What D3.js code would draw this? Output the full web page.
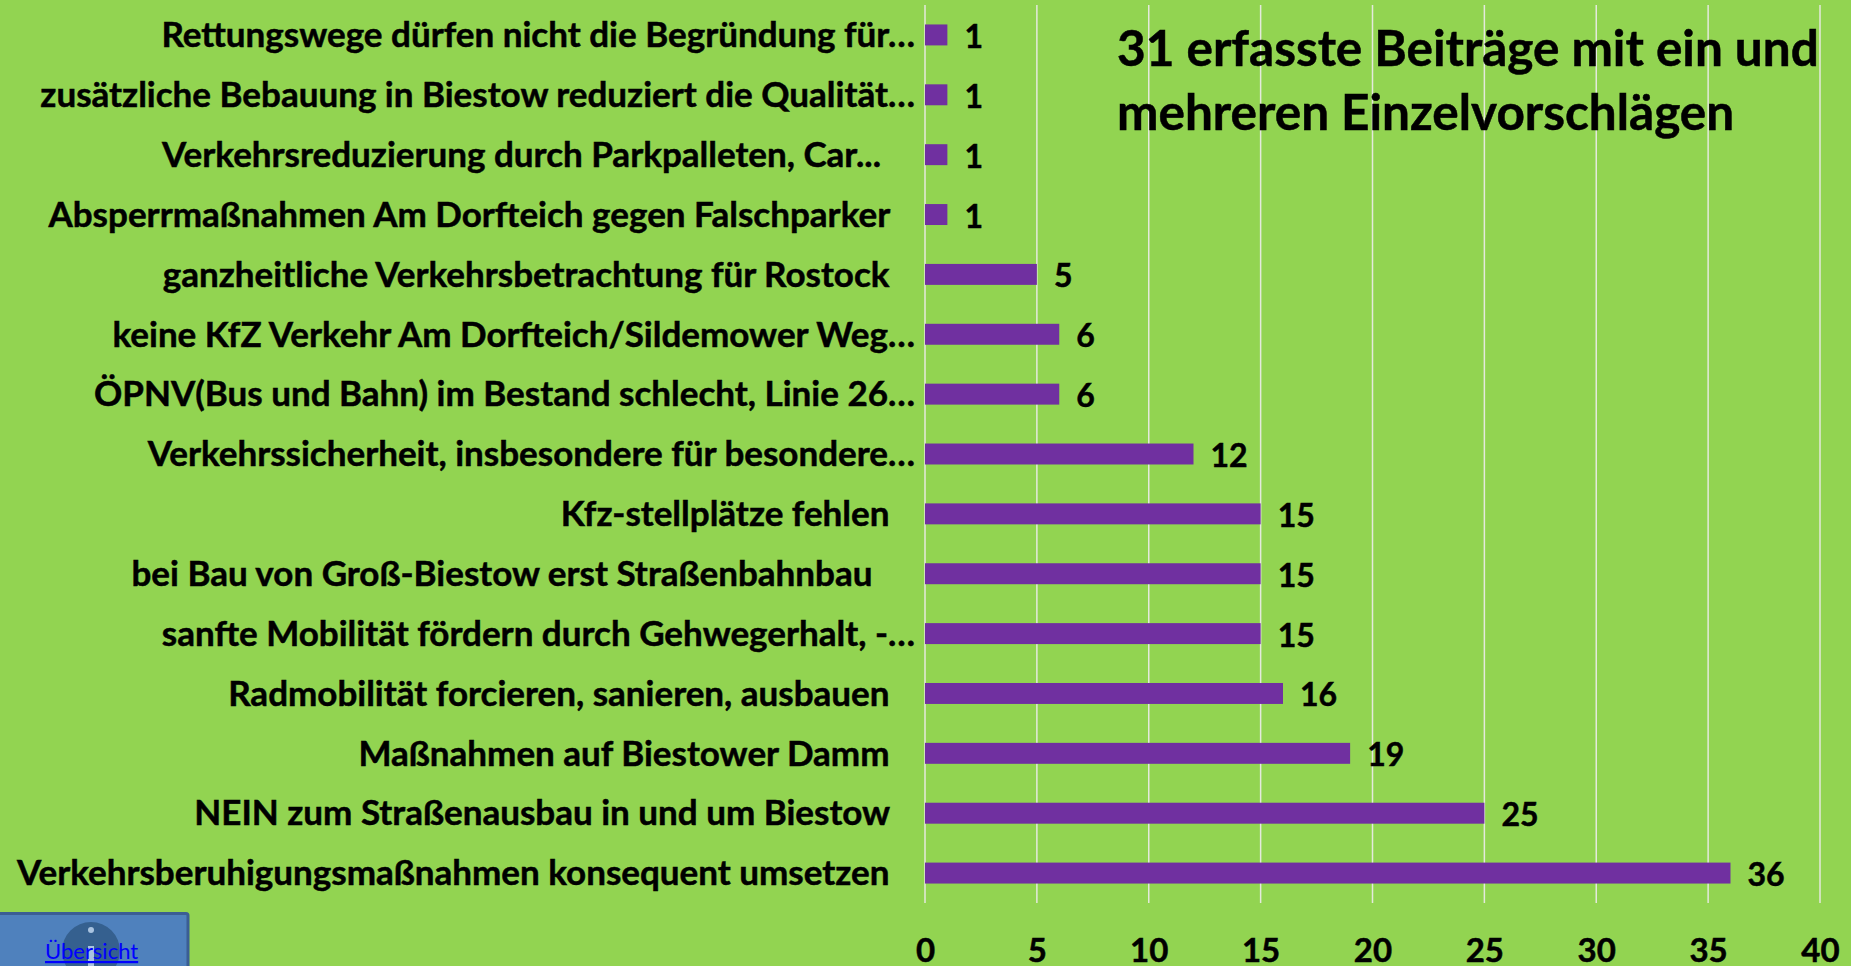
<!DOCTYPE html>
<html>
<head>
<meta charset="utf-8">
<script src="https://cdn.jsdelivr.net/npm/d3@7"></script>
<style>
  html, body { margin: 0; padding: 0; background: #92d451; overflow: hidden; }
  svg { display: block; }
  text { font-family: Lato, "Open Sans", sans-serif; font-weight: 700; fill: #000; stroke: #000; stroke-width: 0.5px; }
</style>
</head>
<body>
<script>
  var w = 1851
  var h = 966

  //trailing nbsp keeps the original right edge of the shorter labels
  var categories = [
    "Rettungswege dürfen nicht die Begründung für…",
    "zusätzliche Bebauung in Biestow reduziert die Qualität…",
    "Verkehrsreduzierung durch Parkpalleten, Car...\u00a0\u00a0\u00a0\u00a0",
    "Absperrmaßnahmen Am Dorfteich gegen Falschparker\u00a0\u00a0\u00a0",
    "ganzheitliche Verkehrsbetrachtung für Rostock\u00a0\u00a0\u00a0",
    "keine KfZ Verkehr Am Dorfteich/Sildemower Weg…",
    "ÖPNV(Bus und Bahn) im Bestand schlecht, Linie 26…",
    "Verkehrssicherheit, insbesondere für besondere…",
    "Kfz-stellplätze fehlen\u00a0\u00a0\u00a0",
    "bei Bau von Groß-Biestow erst Straßenbahnbau\u00a0\u00a0\u00a0\u00a0\u00a0",
    "sanfte Mobilität fördern durch Gehwegerhalt, -…",
    "Radmobilität forcieren, sanieren, ausbauen\u00a0\u00a0\u00a0",
    "Maßnahmen auf Biestower Damm\u00a0\u00a0\u00a0",
    "NEIN zum Straßenausbau in und um Biestow\u00a0\u00a0\u00a0",
    "Verkehrsberuhigungsmaßnahmen konsequent umsetzen\u00a0\u00a0\u00a0"
  ]
  var values = [1, 1, 1, 1, 5, 6, 6, 12, 15, 15, 15, 16, 19, 25, 36]
  var xTicks = [0, 5, 10, 15, 20, 25, 30, 35, 40]
  var titleLines = ["31 erfasste Beiträge mit ein und", "mehreren Einzelvorschlägen"]
  var linkLabel = "Übersicht"

  var svg = d3.select("body")
    .append("svg")
    .attr("width", w)
    .attr("height", h)

  //SCALES
  var x = d3.scaleLinear().domain([0, 40]).range([925, 1820])
  var y = d3.scaleBand()
    .domain(d3.range(categories.length))
    .range([5, 903])
    .paddingInner(0.65)
    .paddingOuter(0.325)

  //GRID
  svg.append("g")
    .selectAll("line")
    .data(xTicks)
    .enter()
    .append("line")
    .attr("x1", function (d) { return x(d) })
    .attr("x2", function (d) { return x(d) })
    .attr("y1", 5)
    .attr("y2", 903)
    .attr("stroke", "#e4e9dc")
    .attr("stroke-width", 1.5)

  //BARS
  svg.append("g")
    .selectAll("rect")
    .data(values)
    .enter()
    .append("rect")
    .attr("x", x(0))
    .attr("y", function (d, i) { return y(i) })
    .attr("width", function (d) { return x(d) - x(0) })
    .attr("height", y.bandwidth())
    .attr("fill", "#7030a0")

  //VALUE LABELS
  svg.append("g")
    .selectAll("text")
    .data(values)
    .enter()
    .append("text")
    .text(function (d) { return d })
    .attr("x", function (d) { return x(d) + 17 })
    .attr("y", function (d, i) { return y(i) + y.bandwidth() / 2 + 13 })
    .attr("font-size", 32)

  //CATEGORY LABELS
  var yAxis = d3.axisLeft(y)
    .tickSize(0)
    .tickPadding(10)
    .tickFormat(function (d) { return categories[d] })

  var yAxisG = svg.append("g")
    .attr("transform", "translate(925,0)")
    .call(yAxis)
  yAxisG.select(".domain").remove()
  yAxisG.selectAll("text")
    .attr("font-size", 35)
    .attr("font-family", "Lato")
    .attr("dy", "0.35em")
    .style("white-space", "pre")

  //X AXIS
  var xAxis = d3.axisBottom(x)
    .tickValues(xTicks)
    .tickSize(0)
    .tickPadding(0)

  var xAxisG = svg.append("g")
    .attr("transform", "translate(0,939)")
    .call(xAxis)
  xAxisG.select(".domain").remove()
  xAxisG.selectAll("text")
    .attr("font-size", 33)
    .attr("font-family", "Lato")

  //TITLE
  svg.append("g")
    .selectAll("text")
    .data(titleLines)
    .enter()
    .append("text")
    .text(function (d) { return d })
    .attr("x", 1117)
    .attr("y", function (d, i) { return 66 + i * 64 })
    .attr("font-size", 49.5)

  //LINK BUTTON
  var button = svg.append("g")
  button.append("rect")
    .attr("x", -4)
    .attr("y", 913.5)
    .attr("width", 192)
    .attr("height", 60)
    .attr("rx", 2)
    .attr("fill", "#4f81bd")
    .attr("stroke", "#3b5e94")
    .attr("stroke-width", 3)
  button.append("circle")
    .attr("cx", 91)
    .attr("cy", 951)
    .attr("r", 29)
    .attr("fill", "#35608f")
  button.append("circle")
    .attr("cx", 91)
    .attr("cy", 930)
    .attr("r", 3)
    .attr("fill", "#a9c3e0")
  button.append("rect")
    .attr("x", 88)
    .attr("y", 946)
    .attr("width", 6)
    .attr("height", 20)
    .attr("fill", "#a9c3e0")
  button.append("text")
    .text(linkLabel)
    .attr("x", 45)
    .attr("y", 959)
    .attr("font-size", 22)
    .style("font-weight", 400)
    .style("stroke", "none")
    .style("fill", "#0000ff")
    .style("text-decoration", "underline")
</script>
</body>
</html>
